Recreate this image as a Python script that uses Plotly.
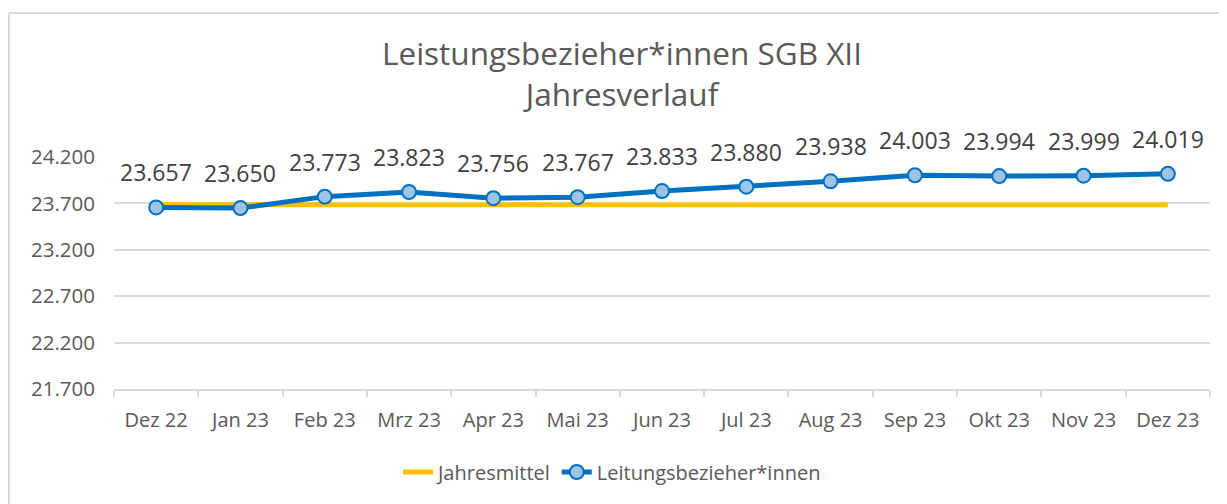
import plotly.graph_objects as go

months = ["Dez 22", "Jan 23", "Feb 23", "Mrz 23", "Apr 23", "Mai 23", "Jun 23",
          "Jul 23", "Aug 23", "Sep 23", "Okt 23", "Nov 23", "Dez 23"]
bezieher = [23657, 23650, 23773, 23823, 23756, 23767, 23833, 23880, 23938,
            24003, 23994, 23999, 24019]
jahresmittel = [23685] * len(months)
y_ticks = [21700, 22200, 22700, 23200, 23700, 24200]

FONT = "Open Sans"
TXT = "#595959"
GRID = "#d9d9d9"

# page offset (body margin) compensation
OFF = 8
W, H = 1227 - OFF, 504 - OFF
L, T = 114 - OFF, 157 - OFF
R = W - (1210 - OFF)
B = H - (389 - OFF)
pw, ph = W - L - R, H - T - B


def fx(page_x):
    return (page_x - OFF - L) / pw


def fy(page_y):
    return (H - B - (page_y - OFF)) / ph


fig = go.Figure()
fig.add_trace(go.Scatter(
    x=months, y=jahresmittel, mode="lines", name="Jahresmittel",
    line=dict(color="#FFC000", width=5), hoverinfo="skip"))
fig.add_trace(go.Scatter(
    x=months, y=bezieher, mode="lines+markers", name="Leitungsbezieher*innen",
    line=dict(color="#0070C0", width=5),
    marker=dict(size=14, color="#9DC3E6", line=dict(color="#0070C0", width=2))))

for m, v in zip(months, bezieher):
    fig.add_annotation(x=m, y=v, text=f"{v:,}".replace(",", "."), showarrow=False,
                       yshift=35, font=dict(family=FONT, size=23, color="#404040"))

fig.add_shape(type="line", xref="paper", yref="paper", x0=fx(9), x1=fx(1240),
              y0=fy(13), y1=fy(13), line=dict(color=GRID, width=2))
fig.add_shape(type="line", xref="paper", yref="paper", x0=fx(9), x1=fx(9),
              y0=fy(13), y1=fy(520), line=dict(color=GRID, width=2))

fig.update_layout(
    width=W, height=H,
    margin=dict(l=L, r=R, t=T, b=B, autoexpand=False),
    paper_bgcolor="white", plot_bgcolor="white",
    separators=",.",
    font=dict(family=FONT, color=TXT, size=20),
    title=dict(text="Leistungsbezieher*innen SGB XII<br>Jahresverlauf",
               x=fx(622), xref="paper", xanchor="center",
               y=1 - 57 / H, yref="container", yanchor="top",
               font=dict(family=FONT, size=31.5, color=TXT)),
    xaxis=dict(type="category", showgrid=False, showline=True, linecolor=GRID,
               linewidth=2, ticks="outside", tickson="boundaries", ticklen=6,
               tickcolor=GRID, tickwidth=2, tickfont=dict(size=20, color=TXT),
               ticklabelstandoff=12, range=[-0.5, 12.5], fixedrange=True),
    yaxis=dict(range=[21700, 24200], tickvals=y_ticks, tickformat=",.0f",
               showgrid=True, gridcolor=GRID, gridwidth=2, zeroline=False,
               ticks="", tickfont=dict(size=20.5, color=TXT), ticklabelstandoff=18,
               fixedrange=True),
    legend=dict(orientation="h", x=fx(612), xanchor="center", y=fy(472),
                yanchor="middle", font=dict(size=20, color=TXT),
                bgcolor="rgba(0,0,0,0)"),
    showlegend=True,
)

fig.write_html("out.html")
